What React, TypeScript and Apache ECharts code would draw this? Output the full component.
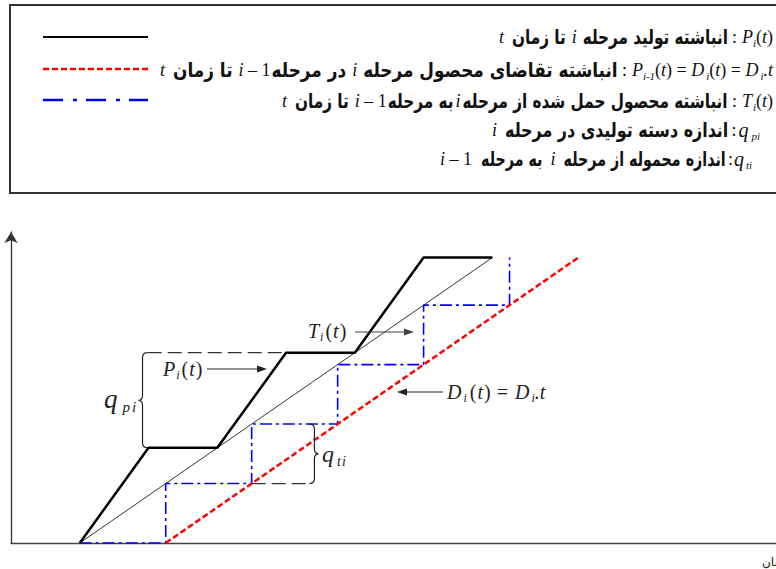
import React, { useEffect, useRef } from "react";
import * as echarts from "echarts";

// ---- diagram data (time units, quantity units) ----
const productionT = [0, 0.8, 1.6, 2.4, 3.2, 4.0, 4.8];
const productionQ = [0, 1.6, 1.6, 3.2, 3.2, 4.8, 4.8];
const averageT = [0, 4.8];
const averageQ = [0, 4.8];
const demandT = [1, 5.8];
const demandQ = [0, 4.8];
const transportT = [0, 1, 1, 2, 2, 3, 3, 4, 4, 5, 5];
const transportQ = [0, 0, 1, 1, 2, 2, 3, 3, 4, 4, 4.8];
const qpGuideT = [0.79, 2.4];
const qpGuideQ = [3.2, 3.2];
const qtGuideT = [2, 2.67];
const qtGuideQ = [1, 1];
const qpBrace = { t: 0.73, from: 1.6, to: 3.2 };
const qtBrace = { t: 2.73, from: 1, to: 2 };
const X_MIN = -0.8;
const X_MAX = 8.1;
const Y_MAX = 5.23;

type Seg = number | { t: string; k: "fa" | "it" | "up" | "sub"; size?: number; dy?: number; w?: string };

const SERIF = "'Liberation Serif', 'Times New Roman', serif";
const FA = "'DejaVu Sans', sans-serif";

const legendRows: { segs: Seg[]; y: number; left: number; right: number }[] = [
  {
    y: 37, left: 499, right: 773,
    segs: [
      { t: "t", k: "it" }, 8, { t: "تا زمان", k: "fa" }, 6, { t: "i", k: "it" }, 6,
      { t: "انباشته تولید مرحله", k: "fa" }, 4, { t: ":", k: "up" }, 5,
      { t: "P", k: "it" }, { t: "i", k: "sub" }, { t: "(", k: "up" }, { t: "t", k: "it" }, { t: ")", k: "up" },
    ],
  },
  {
    y: 70, left: 160, right: 773,
    segs: [
      { t: "t", k: "it" }, 8, { t: "تا زمان", k: "fa" }, 6, { t: "i", k: "it" }, { t: " – 1", k: "up" }, 1,
      { t: "در مرحله", k: "fa" }, 6, { t: "i", k: "it" }, 6,
      { t: "انباشته تقاضای محصول مرحله", k: "fa" }, 4, { t: ":", k: "up" }, 5,
      { t: "P", k: "it" }, { t: "i-1", k: "sub" }, { t: "(", k: "up" }, { t: "t", k: "it" }, { t: ")", k: "up" },
      { t: " = ", k: "up" }, { t: "D", k: "it" }, 2, { t: "i", k: "sub" }, { t: "(", k: "up" }, { t: "t", k: "it" }, { t: ")", k: "up" },
      { t: " = ", k: "up" }, { t: "D", k: "it" }, 2, { t: "i", k: "sub" }, { t: ".t", k: "it" },
    ],
  },
  {
    y: 101, left: 282, right: 773,
    segs: [
      { t: "t", k: "it" }, 8, { t: "تا زمان", k: "fa" }, 6, { t: "i", k: "it" }, { t: " – 1", k: "up" }, 1,
      { t: "به مرحله", k: "fa" }, 2, { t: "i", k: "it" }, 2,
      { t: "انباشته محصول حمل شده از مرحله", k: "fa" }, 4, { t: ":", k: "up" }, 5,
      { t: "T", k: "it" }, 1, { t: "i", k: "sub" }, { t: "(", k: "up" }, { t: "t", k: "it" }, { t: ")", k: "up" },
    ],
  },
  {
    y: 130, left: 492, right: 760,
    segs: [
      { t: "i", k: "it" }, 8, { t: "اندازه دسته تولیدی در مرحله", k: "fa" }, 3, { t: ":", k: "up" }, 2,
      { t: "q", k: "it", size: 20 }, 3, { t: "pi", k: "sub" },
    ],
  },
  {
    y: 159, left: 440, right: 752,
    segs: [
      { t: "i", k: "it" }, { t: " – 1", k: "up" }, 9, { t: "به مرحله", k: "fa" }, 8, { t: "i", k: "it" }, 8,
      { t: "اندازه محموله از مرحله", k: "fa" }, 2, { t: ":", k: "up" }, 1,
      { t: "q", k: "it", size: 20 }, 2, { t: "ti", k: "sub" },
    ],
  },
];

let ctx: CanvasRenderingContext2D | null = null;
function measure(font: string, text: string): number {
  if (!ctx) ctx = document.createElement("canvas").getContext("2d");
  ctx!.font = font;
  return ctx!.measureText(text).width;
}

function segFont(s: any, base: number) {
  const size = s.size ?? (s.k === "sub" ? Math.round(base * 0.62) : s.k === "fa" ? base + 2 : base);
  const style = s.k === "it" || s.k === "sub" ? "italic" : "normal";
  const weight = s.w ?? (s.k === "fa" ? "bold" : "normal");
  const family = s.k === "fa" ? FA : SERIF;
  return { size, style, weight, family, css: `${style} ${weight} ${size}px ${family}` };
}

function layoutRow(segs: Seg[], y: number, base: number, left: number, right?: number, color = "#111") {
  const info = segs.map((s) => {
    if (typeof s === "number") return { gap: s } as any;
    const f = segFont(s, base);
    return { s, f, w: measure(f.css, s.t) };
  });
  let faW = 0;
  let otherW = 0;
  info.forEach((i: any) => {
    if (i.gap !== undefined) otherW += i.gap;
    else if (i.s.k === "fa") faW += i.w;
    else otherW += i.w;
  });
  let scale = 1;
  if (right !== undefined && faW > 0) scale = Math.max(0.45, Math.min(1.4, (right - left - otherW) / faW));
  let x = right !== undefined ? right - (otherW + faW * scale) : left;
  const els: any[] = [];
  info.forEach((i: any) => {
    if (i.gap !== undefined) {
      x += i.gap;
      return;
    }
    const sc = i.s.k === "fa" ? scale : 1;
    const dy = i.s.dy ?? (i.s.k === "sub" ? base * 0.32 : 0);
    els.push({
      type: "text",
      x,
      y: y + dy,
      scaleX: sc,
      silent: true,
      z: 10,
      style: {
        text: i.s.t,
        x: 0,
        y: 0,
        align: "left",
        verticalAlign: "middle",
        fontFamily: i.f.family,
        fontSize: i.f.size,
        fontStyle: i.f.style,
        fontWeight: i.f.weight,
        fill: color,
      },
    });
    x += i.w * sc;
  });
  return els;
}

function braceD(x: number, y1: number, y2: number, dir: number): string {
  const r = 5;
  const e = x - dir * r;
  const m = (y1 + y2) / 2;
  return (
    `M${e},${y1} Q${x},${y1} ${x},${y1 + r} L${x},${m - r} Q${x},${m} ${x + dir * 4},${m} ` +
    `Q${x},${m} ${x},${m + r} L${x},${y2 - r} Q${x},${y2} ${e},${y2}`
  );
}

function arrow(x1: number, y: number, x2: number, color: string) {
  const dir = x2 > x1 ? 1 : -1;
  return [
    { type: "line", silent: true, z: 10, shape: { x1, y1: y, x2: x2 - dir * 6, y2: y }, style: { stroke: color, lineWidth: 1.2 } },
    {
      type: "polygon", silent: true, z: 10,
      shape: { points: [[x2, y], [x2 - dir * 10, y - 3.5], [x2 - dir * 10, y + 3.5]] },
      style: { fill: color },
    },
  ];
}

const zip = (a: number[], b: number[]) => a.map((v, i) => [v, b[i]]);

export default function App() {
  const ref = useRef<HTMLDivElement>(null);
  useEffect(() => {
    const el = ref.current!;
    const chart = echarts.init(el, null, { renderer: "svg" });
    const common = { type: "line", showSymbol: false, symbol: "none", silent: true, clip: false, animation: false };
    chart.setOption({
      animation: false,
      grid: { left: 11, right: 0, top: 232, bottom: 26 },
      xAxis: {
        type: "value", min: X_MIN, max: X_MAX,
        axisLine: { show: true, onZero: false, lineStyle: { color: "#444", width: 1.3 } },
        axisTick: { show: false }, axisLabel: { show: false }, splitLine: { show: false },
      },
      yAxis: {
        type: "value", min: 0, max: Y_MAX,
        axisLine: { show: true, onZero: false, symbol: ["none", "arrow"], symbolSize: [10, 11], lineStyle: { color: "#333", width: 1.3 } },
        axisTick: { show: false }, axisLabel: { show: false }, splitLine: { show: false },
      },
      series: [
        { ...common, data: zip(averageT, averageQ), lineStyle: { color: "#000", width: 0.8 } },
        { ...common, data: zip(qpGuideT, qpGuideQ), lineStyle: { color: "#333", width: 1.2, type: [14, 6] } },
        { ...common, data: zip(qtGuideT, qtGuideQ), lineStyle: { color: "#333", width: 1.2, type: [14, 6] } },
        { ...common, data: zip(transportT, transportQ), lineStyle: { color: "#0000ff", width: 1.6, type: [12, 4, 3, 4] } },
        { ...common, data: zip(demandT, demandQ), lineStyle: { color: "#ff0000", width: 2.5, type: [6, 3] } },
        { ...common, data: zip(productionT, productionQ), lineStyle: { color: "#000", width: 2.5 } },
      ],
    });

    const px = (x: number, y: number) => chart.convertToPixel({ gridIndex: 0 }, [x, y]) as number[];
    const bp1 = px(qpBrace.t, qpBrace.to);
    const bp2 = px(qpBrace.t, qpBrace.from);
    const bt1 = px(qtBrace.t, qtBrace.to);
    const bt2 = px(qtBrace.t, qtBrace.from);
    const d = braceD(bp1[0], bp1[1], bp2[1], -1) + " " + braceD(bt1[0], bt1[1], bt2[1], 1);
    echarts.graphic.registerShape("braces", (echarts.graphic as any).extendPath(d, {}));

    const elements: any[] = [
      { type: "rect", silent: true, shape: { x: 10, y: 5, width: 800, height: 188 }, style: { fill: "none", stroke: "#333", lineWidth: 2 } },
      { type: "line", silent: true, shape: { x1: 43, y1: 37, x2: 148, y2: 37 }, style: { stroke: "#000", lineWidth: 2.2 } },
      { type: "line", silent: true, shape: { x1: 43, y1: 69, x2: 148, y2: 69 }, style: { stroke: "#ff0000", lineWidth: 2.5, lineDash: [6, 3] } },
      { type: "line", silent: true, shape: { x1: 43, y1: 100, x2: 148, y2: 100 }, style: { stroke: "#0000ff", lineWidth: 2.5, lineDash: [20, 10, 4, 9] } },
      { type: "braces", silent: true, z: 10, style: { stroke: "#222", fill: "none", lineWidth: 1.2 } },
      ...arrow(207, 369, 267, "#222"),
      ...arrow(355, 332, 414, "#444"),
      ...arrow(443, 392, 397, "#222"),
      {
        type: "text", silent: true, x: 762, y: 562,
        style: { text: "زمان", x: 0, y: 0, align: "left", verticalAlign: "middle", fontFamily: FA, fontSize: 12, fill: "#222" },
      },
    ];
    legendRows.forEach((r) => elements.push(...layoutRow(r.segs, r.y, 18, r.left, r.right)));
    // diagram labels
    elements.push(
      ...layoutRow([{ t: "P", k: "it" }, 1, { t: "i", k: "sub" }, 2, { t: "(", k: "up" }, 1, { t: "t", k: "it" }, 1, { t: ")", k: "up" }], 369, 20, 163, undefined, "#222"),
      ...layoutRow([{ t: "T", k: "it" }, 1, { t: "i", k: "sub" }, 2, { t: "(", k: "up" }, 1, { t: "t", k: "it" }, 1, { t: ")", k: "up" }], 331, 20, 308, undefined, "#222"),
      ...layoutRow(
        [
          { t: "D", k: "it" }, 2, { t: "i", k: "sub" }, 3, { t: "(", k: "up" }, 1, { t: "t", k: "it" }, 1, { t: ")", k: "up" }, 6,
          { t: "=", k: "up" }, 7, { t: "D", k: "it" }, 2, { t: "i", k: "sub" }, { t: ".t", k: "it" },
        ],
        392, 20, 447, undefined, "#222"
      ),
      ...layoutRow([{ t: "q", k: "it", size: 27 }, 5, { t: "p", k: "sub", size: 15, dy: 8 }, 2, { t: "i", k: "sub", size: 15, dy: 8 }], 399, 20, 104, undefined, "#222"),
      ...layoutRow([{ t: "q", k: "it", size: 24 }, 3, { t: "t", k: "sub", size: 14, dy: 7 }, 1, { t: "i", k: "sub", size: 14, dy: 7 }], 454, 20, 322, undefined, "#222")
    );
    chart.setOption({ graphic: { elements } });
    return () => chart.dispose();
  }, []);
  return <div ref={ref} style={{ position: "absolute", left: 0, top: 0, width: 776, height: 569 }} />;
}
